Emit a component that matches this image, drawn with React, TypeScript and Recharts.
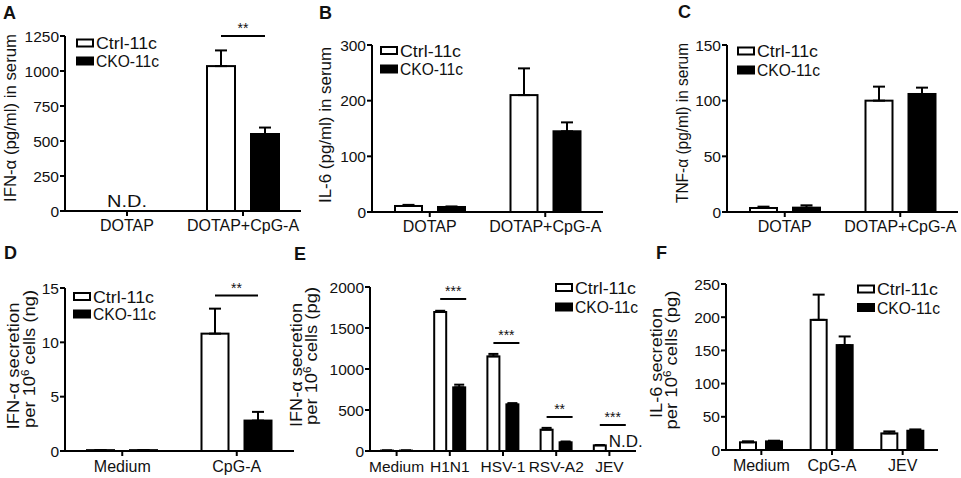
import React from 'react';
import { BarChart, Bar, XAxis, YAxis, ErrorBar } from 'recharts';

const FONT = '"Liberation Sans", Arial, Helvetica, sans-serif';
const INK = '#111';

const SERIES = ['Ctrl-11c', 'CKO-11c'];
const SERIES_FILL = ['#fff', '#000'];

// A - IFN-a in serum
const serumCats = ['DOTAP', 'DOTAP+CpG-A'];
const aCtrl = [0, 1035];
const aCtrlErr = [0, 112];
const aCko = [0, 550];
const aCkoErr = [0, 46];
const aTicks = [0, 250, 500, 750, 1000, 1250];
const aSig = ['', '**'];
const aSigAt = [0, 1250];
const aND = ['both', ''];

// B - IL-6 in serum
const bCtrl = [10.8, 210];
const bCtrlErr = [2, 48];
const bCko = [9, 145];
const bCkoErr = [1, 16];
const bTicks = [0, 100, 200, 300];

// C - TNF-a in serum
const cCtrl = [3.6, 100];
const cCtrlErr = [1.2, 12.6];
const cCko = [3.9, 106];
const cCkoErr = [2.1, 5.7];
const cTicks = [0, 50, 100, 150];

// D - IFN-a secretion (ng)
const dCats = ['Medium', 'CpG-A'];
const dCtrl = [0.08, 10.8];
const dCtrlErr = [0, 2.3];
const dCko = [0.08, 2.8];
const dCkoErr = [0, 0.8];
const dTicks = [0, 5, 10, 15];
const dSig = ['', '**'];
const dSigAt = [0, 14.3];

// E - IFN-a secretion (pg)
const eCats = ['Medium', 'H1N1', 'HSV-1', 'RSV-A2', 'JEV'];
const eCtrl = [5, 1695, 1154, 260, 69];
const eCtrlErr = [1, 15, 30, 22, 4];
const eCko = [5, 776, 569, 106, 0];
const eCkoErr = [1, 33, 15, 10, 0];
const eTicks = [0, 500, 1000, 1500, 2000];
const eSig = ['', '***', '***', '**', '***'];
const eSigAt = [0, 1854, 1317, 415, 317];
const eND = ['', '', '', '', 'cko'];

// F - IL-6 secretion (pg)
const fCats = ['Medium', 'CpG-A', 'JEV'];
const fCtrl = [11.6, 196, 25];
const fCtrlErr = [1.5, 38, 3];
const fCko = [13, 158, 29];
const fCkoErr = [1, 13, 2];
const fTicks = [0, 50, 100, 150, 200, 250];

function rows(cats: string[], ctrl: number[], ctrlErr: number[], cko: number[], ckoErr: number[],
    sig: string[] = [], sigAt: number[] = [], nd: string[] = []) {
    return cats.map((name, i) => ({
        name,
        ctrl: ctrl[i],
        ctrlErr: [0, ctrlErr[i]],
        cko: cko[i],
        ckoErr: [0, ckoErr[i]],
        sig: sig[i] || '',
        sigAt: sigAt[i] || 0,
        nd: nd[i] || '',
    }));
}

interface PanelProps {
    data: any[];
    ticks: number[];
    plot: { left: number; right: number; top: number; bottom: number };
    chartTop: number;
    barSize: number;
    barGap: number;
    errW: number;
    padL?: number;
    sigToEdge?: boolean;
    rightRoom?: number;
    tickMarginX: number;
    catFont?: number;
}

function Panel({ data, ticks, plot, chartTop, barSize, barGap, errW, padL = 0, sigToEdge = false, rightRoom = 6, tickMarginX, catFont = 16 }: PanelProps) {
    const yW = 60;
    const left = plot.left - yW;
    const width = plot.right - left + rightRoom;
    const height = plot.bottom - chartTop + 32;
    const yMax = ticks[ticks.length - 1];

    const ctrlShape = (p: any) => {
        const { x, y, width: w, height: h, payload } = p;
        const base = y + h;
        let sig = null;
        if (payload.sig && payload.ctrl > 0 && h > 0) {
            const ly = base - (payload.sigAt / payload.ctrl) * h;
            const x1 = x + w / 2;
            const x2 = x + w + barGap + (sigToEdge ? w + 1 : w / 2);
            sig = (
                <g>
                    <line x1={x1} x2={x2} y1={ly} y2={ly} stroke="#000" strokeWidth={2} />
                    <text x={(x1 + x2) / 2} y={ly - 3} textAnchor="middle" fontSize={14} fontFamily={FONT} fill={INK}>{payload.sig}</text>
                </g>
            );
        }
        return (
            <g>
                {h > 0 && <rect x={x} y={y} width={w} height={h} fill="#fff" stroke="#000" strokeWidth={2} />}
                {sig}
                {payload.nd === 'both' && (
                    <text x={x + w + barGap / 2} y={base - 4} textAnchor="middle" fontSize={16} textLength={40}
                        lengthAdjust="spacingAndGlyphs" fontFamily={FONT} fill={INK}>N.D.</text>
                )}
            </g>
        );
    };

    const ckoShape = (p: any) => {
        const { x, y, width: w, height: h, payload } = p;
        const base = y + h;
        return (
            <g>
                {h > 0 && <rect x={x} y={y} width={w} height={h} fill="#000" stroke="#000" strokeWidth={2} />}
                {payload.nd === 'cko' && (
                    <text x={x - 4} y={base - 4} textAnchor="start" fontSize={16} textLength={34}
                        lengthAdjust="spacingAndGlyphs" fontFamily={FONT} fill={INK}>N.D.</text>
                )}
            </g>
        );
    };

    return (
        <div style={{ position: 'absolute', left, top: chartTop }}>
            <BarChart width={width} height={height} data={data}
                margin={{ top: plot.top - chartTop, right: rightRoom, bottom: 2, left: 0 }}
                barSize={barSize} barGap={barGap}>
                <XAxis dataKey="name" type="category" interval={0} height={30} padding={{ left: padL, right: 0 }}
                    axisLine={{ stroke: '#000', strokeWidth: 2 }} tickLine={{ stroke: '#000', strokeWidth: 2 }}
                    tickSize={5} tickMargin={tickMarginX}
                    tick={{ fill: INK, fontSize: catFont, fontFamily: FONT }} />
                <YAxis type="number" domain={[0, yMax]} ticks={ticks} interval={0} width={yW}
                    axisLine={{ stroke: '#000', strokeWidth: 2 }} tickLine={{ stroke: '#000', strokeWidth: 2 }}
                    tickSize={5} tickMargin={1}
                    tick={{ fill: INK, fontSize: 15.5, fontFamily: FONT }} />
                <Bar dataKey="ctrl" name={SERIES[0]} shape={ctrlShape} isAnimationActive={false}>
                    <ErrorBar dataKey="ctrlErr" direction="y" width={errW} stroke="#000" strokeWidth={2} />
                </Bar>
                <Bar dataKey="cko" name={SERIES[1]} shape={ckoShape} isAnimationActive={false}>
                    <ErrorBar dataKey="ckoErr" direction="y" width={errW} stroke="#000" strokeWidth={2} />
                </Bar>
            </BarChart>
        </div>
    );
}

function Legend2({ x, y1, y2 }: { x: number; y1: number; y2: number }) {
    return (
        <g>
            {SERIES.map((s, i) => {
                const cy = i === 0 ? y1 : y2;
                return (
                    <g key={s}>
                        <rect x={x + 1} y={cy - 3.5} width={16} height={7} fill={SERIES_FILL[i]} stroke="#000" strokeWidth={2} />
                        <text x={x + 20} y={cy + 6} fontSize={16.5} textLength={i === 0 ? 61 : 63} lengthAdjust="spacingAndGlyphs"
                            fontFamily={FONT} fill={INK}>{s}</text>
                    </g>
                );
            })}
        </g>
    );
}

function RotLabel({ x, y, len, children }: { x: number; y: number; len: number; children: React.ReactNode }) {
    return (
        <text transform={`translate(${x},${y}) rotate(-90)`} textAnchor="middle" fontSize={16} textLength={len}
            lengthAdjust="spacingAndGlyphs" fontFamily={FONT} fill={INK}>{children}</text>
    );
}

const sup6 = (rest: string) => [
    <tspan key="s" dy={-6} fontSize={10}>6</tspan>,
    <tspan key="r" dy={6}>{rest}</tspan>,
];

export default function App() {
    const letter = { fontSize: 18, fontWeight: 700, fontFamily: FONT, fill: INK } as const;
    return (
        <div style={{ position: 'absolute', left: 0, top: 0, width: 961, height: 478, background: '#fff', overflow: 'hidden' }}>
            <Panel data={rows(serumCats, aCtrl, aCtrlErr, aCko, aCkoErr, aSig, aSigAt, aND)} ticks={aTicks}
                plot={{ left: 65, right: 301, top: 36, bottom: 211 }} chartTop={0} padL={4}
                barSize={28} barGap={16} errW={6} tickMarginX={4} />
            <Panel data={rows(serumCats, bCtrl, bCtrlErr, bCko, bCkoErr)} ticks={bTicks}
                plot={{ left: 372, right: 603, top: 45, bottom: 212 }} chartTop={0}
                barSize={27} barGap={16} errW={6} tickMarginX={4} />
            <Panel data={rows(serumCats, cCtrl, cCtrlErr, cCko, cCkoErr)} ticks={cTicks}
                plot={{ left: 727, right: 958, top: 45, bottom: 212 }} chartTop={0} rightRoom={2}
                barSize={27} barGap={16} errW={6} tickMarginX={4} />
            <Panel data={rows(dCats, dCtrl, dCtrlErr, dCko, dCkoErr, dSig, dSigAt)} ticks={dTicks}
                plot={{ left: 65, right: 294, top: 288, bottom: 451 }} chartTop={240}
                barSize={27} barGap={16} errW={6} tickMarginX={5} />
            <Panel data={rows(eCats, eCtrl, eCtrlErr, eCko, eCkoErr, eSig, eSigAt, eND)} ticks={eTicks}
                plot={{ left: 370, right: 636, top: 287, bottom: 451 }} chartTop={240} rightRoom={14} sigToEdge
                barSize={12} barGap={7} errW={5} tickMarginX={5} catFont={15.5} />
            <Panel data={rows(fCats, fCtrl, fCtrlErr, fCko, fCkoErr)} ticks={fTicks}
                plot={{ left: 726, right: 938, top: 284, bottom: 450 }} chartTop={240}
                barSize={16} barGap={10} errW={6} tickMarginX={5} />

            <svg width={961} height={478} style={{ position: 'absolute', left: 0, top: 0, pointerEvents: 'none' }}>
                <text x={3} y={19} {...letter}>A</text>
                <text x={319} y={19} {...letter}>B</text>
                <text x={678} y={18} {...letter}>C</text>
                <text x={4} y={259} {...letter}>D</text>
                <text x={294} y={260} {...letter}>E</text>
                <text x={656} y={259} {...letter}>F</text>

                <RotLabel x={16} y={118} len={168}>IFN-α (pg/ml) in serum</RotLabel>
                <RotLabel x={331} y={125} len={156}>IL-6 (pg/ml) in serum</RotLabel>
                <RotLabel x={688} y={123} len={160}>TNF-α (pg/ml) in serum</RotLabel>

                <RotLabel x={19} y={366} len={127}>IFN-α secretion</RotLabel>
                <RotLabel x={35} y={359} len={138}>per 10{sup6(' cells (ng)')}</RotLabel>
                <RotLabel x={302} y={365} len={124}>IFN-α secretion</RotLabel>
                <RotLabel x={317} y={356} len={138}>per 10{sup6(' cells (pg)')}</RotLabel>
                <RotLabel x={662} y={363} len={110}>IL-6 secretion</RotLabel>
                <RotLabel x={677} y={360} len={139}>per 10{sup6(' cells (pg)')}</RotLabel>

                <Legend2 x={76} y1={43} y2={61} />
                <Legend2 x={380} y1={50.5} y2={69} />
                <Legend2 x={737} y1={51} y2={70} />
                <Legend2 x={73} y1={296.5} y2={314} />
                <Legend2 x={555} y1={287.5} y2={307} />
                <Legend2 x={857} y1={289} y2={307.5} />
            </svg>
        </div>
    );
}
